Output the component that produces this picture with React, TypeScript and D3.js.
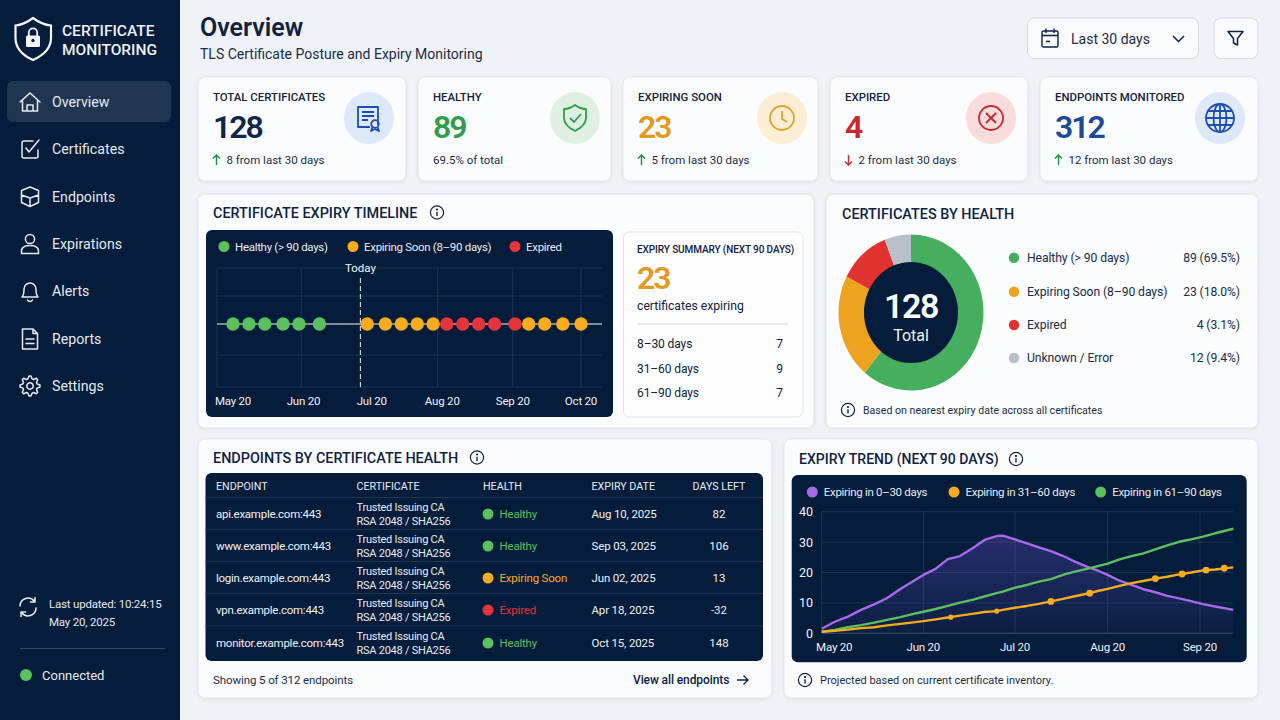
import * as d3 from "d3"

const FONT = "Roboto, 'Noto Sans', sans-serif"
const NAVY = "#051c3a"
const INK = "#0f2340"
const GREEN = "#5cc05e"
const ORANGE = "#f6ac1c"
const RED = "#e5343d"
const PURPLE = "#a66bea"

// sidebar
const navItems = ["Overview", "Certificates", "Endpoints", "Expirations", "Alerts", "Reports", "Settings"]

// kpi cards
const kpiLabels = ["TOTAL CERTIFICATES", "HEALTHY", "EXPIRING SOON", "EXPIRED", "ENDPOINTS MONITORED"]
const kpiValues = ["128", "89", "23", "4", "312"]
const kpiNotes = ["8 from last 30 days", "69.5% of total", "5 from last 30 days", "2 from last 30 days", "12 from last 30 days"]
const kpiArrows = ["up", "", "up", "down", "up"]
const kpiColors = ["#10264a", "#2f9e4a", "#e09a1f", "#c8272d", "#1c4a99"]
const kpiTints = ["#dde9f8", "#dff0e2", "#fbeed4", "#fadcdc", "#dde9f8"]
const kpiIconColors = ["#1f4eb0", "#2f9e4a", "#e3a226", "#c8272d", "#1f4eb0"]

// timeline
const timelineTicks = ["2025-05-20", "2025-06-20", "2025-07-20", "2025-08-20", "2025-09-20", "2025-10-20"]
const timelineGridDates = ["2025-06-19", "2025-08-18", "2025-09-20", "2025-10-20"]
const todayDate = "2025-07-15"
const healthyDates = ["2025-05-20", "2025-05-27", "2025-06-03", "2025-06-11", "2025-06-18", "2025-06-27"]
const soonDatesA = ["2025-07-18", "2025-07-26", "2025-08-02", "2025-08-09", "2025-08-16"]
const expiredDates = ["2025-08-22", "2025-08-29", "2025-09-05", "2025-09-12", "2025-09-21"]
const soonDatesB = ["2025-09-27", "2025-10-04", "2025-10-12", "2025-10-20"]
const summaryRows = ["8–30 days", "31–60 days", "61–90 days"]
const summaryCounts = [7, 9, 7]

// donut: labels carry the stated numbers, sweep is what the ring actually shows
const healthLabels = ["Healthy (> 90 days)", "Expiring Soon (8–90 days)", "Expired", "Unknown / Error"]
const healthText = ["89 (69.5%)", "23 (18.0%)", "4 (3.1%)", "12 (9.4%)"]
const healthSweep = [61, 21.6, 11.5, 5.9]
const healthColors = ["#45ae5f", "#eea31f", "#e0332f", "#b9bfc8"]

// table
const tableHeads = ["ENDPOINT", "CERTIFICATE", "HEALTH", "EXPIRY DATE", "DAYS LEFT"]
const endpoints = ["api.example.com:443", "www.example.com:443", "login.example.com:443", "vpn.example.com:443", "monitor.example.com:443"]
const rowHealth = ["Healthy", "Healthy", "Expiring Soon", "Expired", "Healthy"]
const expiryDates = ["Aug 10, 2025", "Sep 03, 2025", "Jun 02, 2025", "Apr 18, 2025", "Oct 15, 2025"]
const daysLeft = ["82", "106", "13", "-32", "148"]
const healthTone: Record<string, string> = { Healthy: GREEN, "Expiring Soon": ORANGE, Expired: RED }

// trend, days since May 20
const trendDays = [0, 4, 8, 12, 16, 20, 24, 28, 31, 35, 39, 43, 47, 51, 55, 57, 61, 65, 69, 73, 77, 81, 85, 89, 92, 96, 100, 104, 108, 112, 116, 120, 124, 128, 134]
const expiring0to30 = [1.5, 3.8, 5.5, 7.7, 9.5, 11.6, 14.6, 17.2, 19.2, 21.2, 24.4, 25.4, 27.9, 30.7, 32, 32.1, 30.9, 29.6, 28.3, 27, 25.5, 23.6, 21.9, 20.5, 19.2, 17.3, 15.9, 14.5, 13.5, 12.3, 11.5, 10.6, 9.6, 8.8, 7.7]
const expiring31to60 = [0.5, 0.8, 1.2, 1.7, 2, 2.6, 3.1, 3.6, 4, 4.6, 5.2, 5.8, 6.4, 7, 7.3, 7.7, 8.4, 9, 9.7, 10.5, 11.3, 12.2, 13, 14, 14.6, 15.6, 16.5, 17.2, 18, 18.6, 19.4, 20, 20.7, 21, 21.7]
const expiring61to90 = [0.5, 1.1, 2, 2.7, 3.5, 4.4, 5.3, 6.4, 7.1, 8, 9, 10.1, 11, 12.1, 13.2, 13.7, 15, 15.9, 17, 17.8, 19.2, 20.3, 21.2, 22.2, 22.9, 24.3, 25.4, 26.3, 27.6, 28.9, 30.1, 30.9, 31.8, 32.9, 34.4]
const markerDays = [40, 55, 73, 86, 108, 117, 125, 131]
const markerValues = [5.3, 7.3, 10.5, 13.2, 18, 19.5, 20.8, 21.4]
const trendTickDays = [0, 31, 61, 92, 123]
const trendTickLabels = ["May 20", "Jun 20", "Jul 20", "Aug 20", "Sep 20"]
const trendYTicks = [0, 10, 20, 30, 40]
const trendNames = ["Expiring in 0–30 days", "Expiring in 31–60 days", "Expiring in 61–90 days"]

const parse = d3.utcParse("%Y-%m-%d")
const day = (s: string) => parse(s) as Date
const fmtTick = d3.utcFormat("%b %d")

function T({ x, y, s = 12, w = 400, c = INK, a = "start", ls = 0, children }: any) {
  return (
    <text x={x} y={y} fontSize={s} fontWeight={w} fill={c} textAnchor={a} letterSpacing={ls} dominantBaseline="central">
      {children}
    </text>
  )
}

function Card({ x, y, w, h }: any) {
  return <rect x={x} y={y} width={w} height={h} rx={7} fill="#fbfcfd" stroke="#e3e7ed" filter="url(#soft)" />
}

function Info({ x, y }: any) {
  return (
    <g transform={`translate(${x},${y})`} fill="none" stroke={INK} strokeWidth={1.2}>
      <circle r={6.6} />
      <path d="M0-.8V3.4" strokeWidth={1.4} />
      <circle cy={-3} r={0.5} fill={INK} />
    </g>
  )
}

function gearPath() {
  const pts: string[] = []
  for (let i = 0; i < 32; i++) {
    const k = i % 4
    const r = k < 2 ? 10 : 7.4
    const a = ((i - 0.5) / 32) * 2 * Math.PI
    pts.push(`${r * Math.cos(a)},${r * Math.sin(a)}`)
  }
  return `M${pts.join("L")}Z`
}

const navIcons = [
  <path d="M-10 0 0-9 10 0M-7.5-2V9H7.5V-2M-3 9V3H3V9" />,
  <path d="M8 1V7A2 2 0 0 1 6 9H-6A2 2 0 0 1-8 7V-6A2 2 0 0 1-6-8H3M-4-1-1 3 9-9" />,
  <path d="M0-10 8.5-6.5V5.5L0 9.5-8.5 5.5V-6.5ZM-8.5-2 0 1 8.5-2M0 1V9.5" />,
  <g><circle cy={-5} r={4.6} /><path d="M-8.5 9.5V7C-8.5 3-4 1.5 0 1.5S8.5 3 8.5 7V9.5Z" /></g>,
  <path d="M-8 6C-6 4-6 2-6-2A6 6 0 0 1 6-2C6 2 6 4 8 6ZM-2.5 9A2.8 2.8 0 0 0 2.5 9" />,
  <path d="M-7.5-10H3L7.5-5.5V10H-7.5ZM3-10V-5.5H7.5M-4 0H4M-4 4.5H4" />,
  <g><path d={gearPath()} strokeLinejoin="round" /><circle r={3.2} /></g>,
]

const kpiIcons = [
  <g>
    <path d="M9 7V-11H-11V9H1" />
    <path d="M-7-6H5M-7-2H5M-7 2H-1" />
    <circle cx={6} cy={6} r={3.8} />
    <path d="M3.5 9 2 13 6 11 10 13 8.5 9" />
  </g>,
  <g>
    <path d="M0-13C4-10 8-9 11-9V0C11 6 6 10 0 13-6 10-11 6-11 0V-9C-8-9-4-10 0-13Z" />
    <path d="M-5 0-1 4 6-4" />
  </g>,
  <g>
    <circle r={12} />
    <path d="M0-7V1L5 4" />
  </g>,
  <g>
    <circle r={12} />
    <path d="M-5-5 5 5M5-5-5 5" />
  </g>,
  <g>
    <circle r={14} />
    <ellipse rx={6.5} ry={14} />
    <path d="M0-14V14M-14 0H14M-12.2-7H12.2M-12.2 7H12.2" />
  </g>,
]

function Sidebar() {
  return (
    <g>
      <rect width={180} height={720} fill={NAVY} />
      <path d="M33 18C39 22.5 45 25 51 25.5V38C51 48 43 55.5 33 60 23 55.5 15.5 48 15.5 38V25.5C21 25 27 22.5 33 18Z" fill="none" stroke="#f3f6fa" strokeWidth={2.2} />
      <rect x={26} y={35.5} width={14} height={11.5} rx={1.5} fill="#f3f6fa" />
      <path d="M28.8 36V32.5A4.2 4.2 0 0 1 37.2 32.5V36" fill="none" stroke="#f3f6fa" strokeWidth={1.8} />
      <circle cx={33} cy={40.5} r={1.7} fill={NAVY} />
      <T x={62} y={30.5} s={15.5} w={500} c="#eef2f7">CERTIFICATE</T>
      <T x={62} y={50} s={15.5} w={500} c="#eef2f7">MONITORING</T>
      <rect x={7} y={81} width={164} height={41} rx={6} fill="#203650" />
      {navItems.map((n, i) => {
        const y = [102, 149, 197, 244, 291, 339, 386][i]
        return (
          <g key={n}>
            <g transform={`translate(30,${y})`} fill="none" stroke="#e6ecf3" strokeWidth={1.5} strokeLinejoin="round" strokeLinecap="round">
              {navIcons[i]}
            </g>
            <T x={52} y={y} s={14.2} c="#e3e9f1">{n}</T>
          </g>
        )
      })}
      <g transform="translate(28,607)" fill="none" stroke="#e6ecf3" strokeWidth={1.5} strokeLinecap="round" strokeLinejoin="round">
        <path d="M-8-1A8 8 0 0 1 6.5-5.5M8 1A8 8 0 0 1-6.5 5.5M7-9.5V-5H2.5M-7 9.5V5H-2.5" />
      </g>
      <T x={49} y={603.5} s={11.5} ls={-0.2} c="#e3e9f1">Last updated: 10:24:15</T>
      <T x={49} y={622} s={11.5} ls={-0.2} c="#e3e9f1">May 20, 2025</T>
      <line x1={20} x2={165} y1={648.5} y2={648.5} stroke="#33475f" />
      <circle cx={26} cy={675} r={6} fill={GREEN} />
      <T x={42} y={675} s={13} c="#e3e9f1">Connected</T>
    </g>
  )
}

function Header() {
  return (
    <g>
      <T x={200} y={27} s={25} w={600} c={INK}>Overview</T>
      <T x={200} y={54} s={14} c="#1c2d47">TLS Certificate Posture and Expiry Monitoring</T>
      <rect x={1027.5} y={18} width={171} height={40.5} rx={7} fill="#f9fafc" stroke="#d5dae1" />
      <g transform="translate(1050,38.5)" fill="none" stroke={INK} strokeWidth={1.4}>
        <rect x={-8} y={-7.5} width={16} height={16} rx={1.5} />
        <path d="M-8-3H8M-4-10V-5.5M4-10V-5.5M-4 3H0" />
      </g>
      <T x={1071} y={38.5} s={14} c="#1c2d47">Last 30 days</T>
      <path d="M1173 36 1178.5 41.5 1184 36" fill="none" stroke={INK} strokeWidth={1.5} />
      <rect x={1214} y={18} width={44} height={40.5} rx={7} fill="#f9fafc" stroke="#d5dae1" />
      <path d="M1228 31.5H1243L1237.5 38.5V45L1233.5 43V38.5Z" fill="none" stroke={INK} strokeWidth={1.5} strokeLinejoin="round" />
    </g>
  )
}

function KpiCards() {
  const xs = [198, 418, 623, 830, 1040]
  const ws = [208, 193, 195, 198, 218]
  const cx = [369, 575, 782, 991, 1220]
  return (
    <g>
      {kpiLabels.map((label, i) => {
        const tx = xs[i] + 15
        return (
          <g key={label}>
            <Card x={xs[i]} y={77} w={ws[i]} h={104} />
            <T x={tx} y={97} s={11.4} w={500} c="#14243c">{label}</T>
            <T x={tx} y={127} s={32} w={600} ls={-2} c={kpiColors[i]}>{kpiValues[i]}</T>
            {kpiArrows[i] && (
              <path
                d={kpiArrows[i] === "up" ? "M0 5V-5M-3.5-1.5 0-5 3.5-1.5" : "M0-5V5M-3.5 1.5 0 5 3.5 1.5"}
                transform={`translate(${tx + 3.5},160)`}
                fill="none"
                stroke={kpiArrows[i] === "up" ? "#1c8f3a" : "#c8272d"}
                strokeWidth={1.4}
              />
            )}
            <T x={kpiArrows[i] ? tx + 13.5 : tx} y={160} s={11.5} c="#1c2d47">{kpiNotes[i]}</T>
            <ellipse cx={cx[i]} cy={118} rx={25} ry={26} fill={kpiTints[i]} />
            <g transform={`translate(${cx[i]},118)`} fill="none" stroke={kpiIconColors[i]} strokeWidth={1.8} strokeLinejoin="round">
              {kpiIcons[i]}
            </g>
          </g>
        )
      })}
    </g>
  )
}

function Timeline() {
  const x = d3.scaleUtc().domain([day("2025-05-20"), day("2025-10-20")]).range([233, 581])
  const gridYs = [268, 296, 355, 387]
  const groups: [string[], string][] = [
    [healthyDates, GREEN],
    [soonDatesA, ORANGE],
    [expiredDates, RED],
    [soonDatesB, ORANGE],
  ]
  const legend = [
    { x: 224, label: "Healthy (> 90 days)", c: GREEN },
    { x: 353, label: "Expiring Soon (8–90 days)", c: ORANGE },
    { x: 515, label: "Expired", c: RED },
  ]
  return (
    <g>
      <Card x={198} y={194} w={616} h={234} />
      <T x={213} y={213} s={14.4} w={500}>CERTIFICATE EXPIRY TIMELINE</T>
      <Info x={437} y={212.5} />
      <rect x={206} y={230} width={407} height={187} rx={6} fill={NAVY} />
      {legend.map(l => (
        <g key={l.label}>
          <circle cx={l.x} cy={246.5} r={5.5} fill={l.c} />
          <T x={l.x + 11} y={246.5} s={11.5} ls={-0.3} c="#e6ecf3">{l.label}</T>
        </g>
      ))}
      {gridYs.map(y => (
        <line key={y} x1={217} x2={602} y1={y} y2={y} stroke="#1f3552" strokeWidth={1} />
      ))}
      <line x1={217} x2={217} y1={268} y2={387} stroke="#1f3552" />
      {timelineGridDates.map(d => (
        <line key={d} x1={x(day(d))} x2={x(day(d))} y1={268} y2={387} stroke="#1f3552" />
      ))}
      <line x1={217} x2={602} y1={324} y2={324} stroke="#a6b0bd" strokeWidth={1.6} />
      <line x1={x(day(todayDate))} x2={x(day(todayDate))} y1={278} y2={387} stroke="#e6ecf3" strokeWidth={1} strokeDasharray="5 3" />
      <T x={x(day(todayDate))} y={268} s={11.5} c="#f0f3f7" a="middle">Today</T>
      {groups.map(([dates, c], i) =>
        dates.map(d => <circle key={`${i}-${d}`} cx={x(day(d))} cy={324} r={6.7} fill={c} />)
      )}
      {timelineTicks.map(d => (
        <T key={d} x={x(day(d))} y={400.5} s={11.5} ls={-0.2} c="#eef2f7" a="middle">{fmtTick(day(d))}</T>
      ))}
      <rect x={623.5} y={232} width={179.5} height={185} rx={6} fill="#fdfdfe" stroke="#dfe3e9" />
      <T x={637} y={249} s={10} ls={-0.1} w={500}>EXPIRY SUMMARY (NEXT 90 DAYS)</T>
      <T x={637} y={278} s={32} w={600} ls={-2} c="#e09a1f">23</T>
      <T x={637} y={306} s={12.2}>certificates expiring</T>
      <line x1={637} x2={788} y1={324} y2={324} stroke="#d3d8df" />
      {summaryRows.map((r, i) => {
        const y = [344, 368.5, 393][i]
        return (
          <g key={r}>
            <T x={637} y={y} s={12} ls={-0.1}>{r}</T>
            <T x={783} y={y} s={12} a="end">{summaryCounts[i]}</T>
          </g>
        )
      })}
    </g>
  )
}

function HealthDonut() {
  const pie = d3.pie<number>().sort(null)
  const arc = d3.arc<d3.PieArcDatum<number>>().innerRadius(45).outerRadius(72.5)
  const slices = pie(healthSweep)
  const rowYs = [257.7, 291.7, 325, 358]
  return (
    <g>
      <Card x={826} y={194} w={432} h={234} />
      <T x={842} y={214} s={14.4} w={500}>CERTIFICATES BY HEALTH</T>
      <g transform="translate(911,312.5) scale(1,1.077)">
        {slices.map((s, i) => (
          <path key={i} d={arc(s) as string} fill={healthColors[i]} />
        ))}
        <circle r={47} fill={NAVY} />
      </g>
      <T x={911} y={306} s={34} w={600} ls={-1.5} c="#fff" a="middle">128</T>
      <T x={911} y={335} s={16} c="#eef2f7" a="middle">Total</T>
      {healthLabels.map((l, i) => (
        <g key={l}>
          <circle cx={1014} cy={rowYs[i]} r={5.2} fill={healthColors[i]} />
          <T x={1027} y={rowYs[i]} s={12.2} ls={-0.1} c="#1c2d47">{l}</T>
          <T x={1240} y={rowYs[i]} s={12.2} ls={-0.1} c="#1c2d47" a="end">{healthText[i]}</T>
        </g>
      ))}
      <Info x={848} y={410} />
      <T x={863} y={410} s={10.6} c="#1c2d47">Based on nearest expiry date across all certificates</T>
    </g>
  )
}

function EndpointTable() {
  const colX = [216, 356.5, 483, 591.5, 719]
  const rowYs = [514, 546, 578, 610, 643]
  const lineYs = [497.5, 529.5, 561.5, 593.5, 626]
  return (
    <g>
      <Card x={198} y={439} w={574} h={259} />
      <T x={213} y={458} s={14.4} w={500}>ENDPOINTS BY CERTIFICATE HEALTH</T>
      <Info x={477} y={457.5} />
      <rect x={205.5} y={473} width={557.5} height={188} rx={6} fill={NAVY} />
      {tableHeads.map((h, i) => (
        <T key={h} x={colX[i]} y={486} s={10.7} c="#e6ecf3" a={i === 4 ? "middle" : "start"}>{h}</T>
      ))}
      {lineYs.map(y => (
        <line key={y} x1={205.5} x2={763} y1={y} y2={y} stroke="#1f3552" />
      ))}
      {endpoints.map((e, i) => {
        const y = rowYs[i]
        const tone = healthTone[rowHealth[i]]
        return (
          <g key={e}>
            <T x={colX[0]} y={y} s={11.5} ls={-0.25} c="#eef2f7">{e}</T>
            <T x={colX[1]} y={y - 6.5} s={11} ls={-0.25} c="#e6ecf3">Trusted Issuing CA</T>
            <T x={colX[1]} y={y + 7} s={11} ls={-0.25} c="#e6ecf3">RSA 2048 / SHA256</T>
            <circle cx={488} cy={y} r={5.5} fill={tone} />
            <T x={499.5} y={y} s={11.5} ls={-0.2} c={tone}>{rowHealth[i]}</T>
            <T x={colX[3]} y={y} s={11.5} ls={-0.15} c="#eef2f7">{expiryDates[i]}</T>
            <T x={colX[4]} y={y} s={11.5} c="#eef2f7" a="middle">{daysLeft[i]}</T>
          </g>
        )
      })}
      <T x={213} y={680} s={11.5} ls={-0.1} c="#1c2d47">Showing 5 of 312 endpoints</T>
      <T x={633} y={680} s={12} w={500} ls={-0.1}>View all endpoints</T>
      <path d="M737 680H748M743.5 675.5 748 680 743.5 684.5" fill="none" stroke={INK} strokeWidth={1.3} />
    </g>
  )
}

function Trend() {
  // months are not evenly spaced in the picture, so the scale is piecewise
  const x = d3.scaleLinear().domain([0, 31, 61, 92, 123, 134]).range([821.7, 923.3, 1015, 1107.7, 1200, 1233.3])
  const y = d3.scaleLinear().domain([0, 40]).range([633.3, 511.7])
  const line = d3.line<number>().x((_, i) => x(trendDays[i])).y(d => y(d))
  const area = d3.area<number>().x((_, i) => x(trendDays[i])).y0(y(0)).y1(d => y(d))
  const names = [
    { x: 812.3, c: PURPLE },
    { x: 954, c: ORANGE },
    { x: 1100.7, c: GREEN },
  ]
  return (
    <g>
      <Card x={784} y={439} w={474} h={259} />
      <T x={799} y={459} s={14} w={500}>EXPIRY TREND (NEXT 90 DAYS)</T>
      <Info x={1016} y={459} />
      <rect x={791.7} y={475} width={455} height={187.3} rx={6} fill={NAVY} />
      {names.map((n, i) => (
        <g key={i}>
          <circle cx={n.x} cy={492} r={5.5} fill={n.c} />
          <T x={n.x + 11.5} y={492} s={11.5} ls={-0.3} c="#e6ecf3">{trendNames[i]}</T>
        </g>
      ))}
      {trendYTicks.map(t => (
        <g key={t}>
          <line x1={x(0)} x2={1233.3} y1={y(t)} y2={y(t)} stroke={t === 0 ? "#3a4f6b" : "#1d3553"} />
          <T x={813} y={y(t)} s={12.5} c="#eef2f7" a="end">{t}</T>
        </g>
      ))}
      {trendTickDays.map((d, i) => (
        <g key={d}>
          <line x1={x(d)} x2={x(d)} y1={511.7} y2={633.3} stroke="#1d3553" />
          <T x={x(d) + (i === 0 ? 12.5 : 0)} y={647} s={11.5} ls={-0.2} c="#eef2f7" a="middle">{trendTickLabels[i]}</T>
        </g>
      ))}
      <path d={area(expiring0to30) as string} fill="url(#purpleFade)" />
      <path d={line(expiring0to30) as string} fill="none" stroke={PURPLE} strokeWidth={2.4} strokeLinejoin="round" />
      <path d={line(expiring61to90) as string} fill="none" stroke={GREEN} strokeWidth={2.4} strokeLinejoin="round" />
      <path d={line(expiring31to60) as string} fill="none" stroke={ORANGE} strokeWidth={2.4} strokeLinejoin="round" />
      {markerDays.map((d, i) => (
        <circle key={d} cx={x(d)} cy={y(markerValues[i])} r={i < 2 ? 2.6 : 3.4} fill={ORANGE} />
      ))}
      <Info x={805} y={680} />
      <T x={820} y={680} s={11} c="#1c2d47">Projected based on current certificate inventory.</T>
    </g>
  )
}

export default function App() {
  return (
    <div style={{ position: "absolute", left: 0, top: 0 }}>
      <svg width={1280} height={720} viewBox="0 0 1280 720" style={{ display: "block", fontFamily: FONT }}>
        <defs>
          <filter id="soft" x="-5%" y="-5%" width="110%" height="115%">
            <feDropShadow dx={0} dy={1} stdDeviation={1.5} floodColor="#8a97a8" floodOpacity={0.18} />
          </filter>
          <linearGradient id="purpleFade" x1="0" y1="0" x2="0" y2="1">
            <stop offset="0%" stopColor="#6a4fd0" stopOpacity={0.34} />
            <stop offset="100%" stopColor="#6a4fd0" stopOpacity={0.06} />
          </linearGradient>
        </defs>
        <rect width={1280} height={720} fill="#eff2f6" />
        <Sidebar />
        <Header />
        <KpiCards />
        <Timeline />
        <HealthDonut />
        <EndpointTable />
        <Trend />
      </svg>
    </div>
  )
}
